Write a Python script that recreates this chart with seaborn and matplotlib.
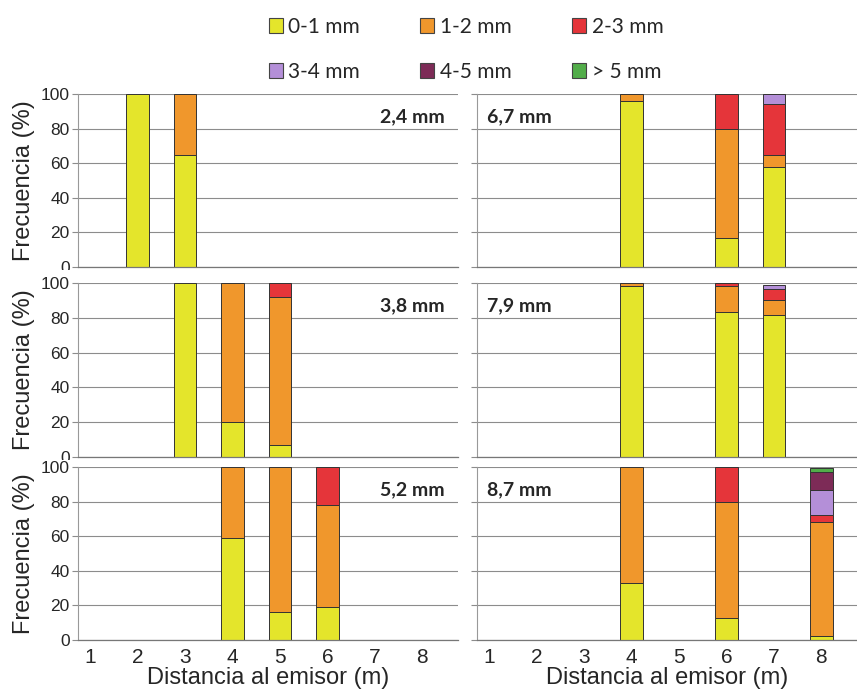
import matplotlib
matplotlib.use("Agg")
import matplotlib.pyplot as plt
from matplotlib.patches import Patch
from matplotlib.transforms import Bbox, TransformedBbox
import numpy as np
import pandas as pd
import seaborn as sns

sizes = ['0-1 mm', '1-2 mm', '2-3 mm', '3-4 mm', '4-5 mm', '> 5 mm']
colors = ['#e4e52b', '#f0972c', '#e5353a', '#b48fd8', '#7d2b57', '#52ad4a']
panels = ['2,4 mm', '3,8 mm', '5,2 mm', '6,7 mm', '7,9 mm', '8,7 mm']

# distance (m) and frequency (%) per size class, one list per bar
dist_24 = [2, 3]
freq_24 = [[100, 0, 0, 0, 0, 0],
           [65, 35, 0, 0, 0, 0]]
dist_38 = [3, 4, 5]
freq_38 = [[100, 0, 0, 0, 0, 0],
           [20, 80, 0, 0, 0, 0],
           [7, 85, 8, 0, 0, 0]]
dist_52 = [4, 5, 6]
freq_52 = [[59, 41, 0, 0, 0, 0],
           [16, 84, 0, 0, 0, 0],
           [19, 59, 22, 0, 0, 0]]
dist_67 = [4, 6, 7]
freq_67 = [[96, 4, 0, 0, 0, 0],
           [16.5, 63.5, 20, 0, 0, 0],
           [58, 7, 29.5, 5.5, 0, 0]]
dist_79 = [4, 6, 7]
freq_79 = [[98, 2, 0, 0, 0, 0],
           [83.5, 15, 1.5, 0, 0, 0],
           [81.5, 8.5, 6.5, 2.5, 0, 0]]
dist_87 = [4, 6, 8]
freq_87 = [[33, 67, 0, 0, 0, 0],
           [12.5, 67, 20.5, 0, 0, 0],
           [2.5, 65.5, 4.5, 14, 10.5, 2.5]]

all_dist = [dist_24, dist_38, dist_52, dist_67, dist_79, dist_87]
all_freq = [freq_24, freq_38, freq_52, freq_67, freq_79, freq_87]

rows = []
for name, dist, freq in zip(panels, all_dist, all_freq):
    for d, f in zip(dist, freq):
        for s, v in zip(sizes, f):
            if v > 0:
                rows.append((name, d, s, v))
df = pd.DataFrame(rows, columns=['panel', 'dist', 'size', 'freq'])

sns.set_theme(style='white')
plt.rcParams['font.family'] = ['Liberation Sans', 'DejaVu Sans']

W, H = 857, 696
fig = plt.figure(figsize=(W / 100, H / 100), dpi=100)
fig.patch.set_facecolor('white')

col_x = [78, 477]
col_w = 380
row_y = [(94, 267), (283, 457), (467, 640)]
pal = dict(zip(sizes, colors))
left_axes = []

for i, name in enumerate(panels):
    col, row = divmod(i, 3)
    top, bot = row_y[row]
    ax = fig.add_axes([col_x[col] / W, 1 - bot / H, col_w / W, (bot - top) / H])
    sub = df[df['panel'] == name]
    sns.histplot(data=sub, x='dist', hue='size', weights='freq',
                 multiple='stack', discrete=True, shrink=0.47,
                 hue_order=sizes[::-1], palette=pal, alpha=1,
                 edgecolor='#333333', linewidth=0.7, legend=False, ax=ax)
    for p in list(ax.patches):
        if p.get_height() == 0:
            p.remove()

    ax.set_xlim(0.75, 8.75)
    ax.set_ylim(0, 100)
    ax.set_yticks(range(0, 101, 20))
    ax.yaxis.grid(True, color='#8c8c8c', lw=0.8)
    ax.set_axisbelow(True)
    ax.set_xticks(range(1, 9))
    ax.set_xticks(np.arange(0.75, 8.76, 0.5), minor=True)
    ax.tick_params(axis='x', which='major', length=0, labelsize=15, pad=6)
    ax.tick_params(axis='x', which='minor', length=4, width=0.8,
                   direction='out', color='#777777')
    ax.tick_params(axis='y', length=4, width=0.8, direction='out',
                   color='#8c8c8c', labelsize=12.5, pad=2, left=True)
    for side in ['top', 'right']:
        ax.spines[side].set_visible(False)
    ax.spines['bottom'].set_color('#777777')
    ax.spines['left'].set_color('#999999')
    ax.spines['bottom'].set_linewidth(0.9)
    ax.spines['left'].set_linewidth(0.8)

    if col == 0:
        ax.set_ylabel('Frecuencia (%)', fontsize=17, labelpad=4)
        ax.text(8.47, 87, name, ha='right', va='center', fontsize=14,
                fontweight='bold', family=['Lato', 'DejaVu Sans'])
        left_axes.append((ax, bot))
    else:
        ax.set_ylabel('')
        ax.tick_params(axis='y', labelleft=False)
        ax.text(0.96, 87, name, ha='left', va='center', fontsize=14,
                fontweight='bold', family=['Lato', 'DejaVu Sans'])

    if row == 2:
        ax.set_xlabel('Distancia al emisor (m)', fontsize=17, labelpad=0)
    else:
        ax.set_xlabel('')
        ax.tick_params(axis='x', labelbottom=False)

# the "0" of the upper rows is half hidden by the panel below, as in the source
for ax, bot in left_axes[:2]:
    cut = 1 - (bot + 3) / H
    box = TransformedBbox(Bbox([[0, cut], [1, 1]]), fig.transFigure)
    lbl = ax.yaxis.get_major_ticks()[0].label1
    lbl.set_clip_box(box)
    lbl.set_clip_on(True)

order = [0, 3, 1, 4, 2, 5]
handles = [Patch(facecolor=colors[k], edgecolor='#444444', linewidth=0.8) for k in order]
labels = [sizes[k] for k in order]
fig.legend(handles, labels, ncol=3, loc='upper center',
           bbox_to_anchor=(466 / W, 1 + 2 / H), frameon=False,
           prop={'family': ['Lato', 'DejaVu Sans'], 'size': 15},
           handlelength=0.67, handleheight=0.67, handletextpad=0.27,
           columnspacing=2.9, labelspacing=1.2)

fig.savefig('out.png', dpi=100, facecolor='white')
